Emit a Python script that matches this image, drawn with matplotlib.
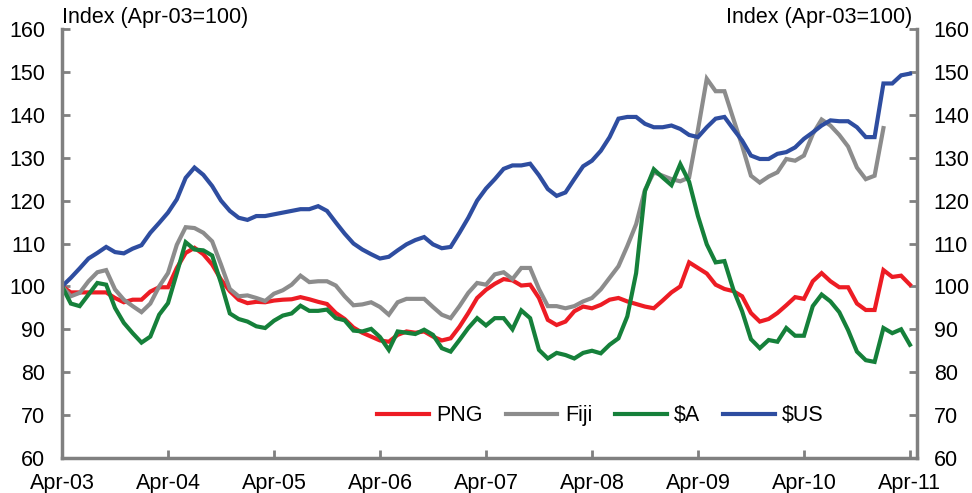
import matplotlib
matplotlib.use("Agg")
import matplotlib.pyplot as plt
import numpy as np

plt.rcParams['font.family'] = ['Liberation Sans', 'DejaVu Sans']

tick_labels = ['Apr-03', 'Apr-04', 'Apr-05', 'Apr-06', 'Apr-07', 'Apr-08', 'Apr-09', 'Apr-10', 'Apr-11']

png = [100, 98.6, 98.6, 98.6, 98.6, 98.6, 97.3, 96.3, 96.9, 96.9,
       98.8, 99.8, 99.8, 104.3, 107.8, 109.0, 107.5, 105.1, 101.6, 98.9,
       96.9, 96.1, 96.4, 96.3, 96.7, 96.9, 97.0, 97.5, 97.0, 96.4,
       95.9, 93.8, 92.4, 90.4, 89.2, 88.3, 87.4, 87.1, 88.7, 89.5,
       89.2, 89.5, 88.3, 87.4, 87.9, 90.6, 93.8, 97.3, 99.2, 100.6,
       101.7, 101.4, 100.2, 100.4, 97.3, 92.2, 91.0, 91.8, 94.2, 95.3,
       94.9, 95.7, 96.9, 97.3, 96.5, 95.9, 95.3, 94.9, 96.7, 98.6,
       100.0, 105.6, 104.3, 103.0, 100.4, 99.4, 98.9, 97.7, 93.8, 91.8,
       92.4, 93.8, 95.6, 97.5, 97.1, 101.2, 103.1, 101.2, 99.8, 99.8,
       96.0, 94.5, 94.5, 103.8, 102.2, 102.5, 100.4]

fiji = [100, 97.7, 98.5, 101.2, 103.3, 103.8, 99.3, 96.9, 95.4, 94.0,
        96.0, 100.0, 103.1, 109.7, 113.8, 113.6, 112.5, 110.5, 105.1, 99.4,
        97.7, 97.9, 97.3, 96.6, 98.3, 99.1, 100.4, 102.5, 101.0, 101.2,
        101.2, 100.2, 97.7, 95.6, 95.8, 96.3, 95.2, 93.4, 96.3, 97.1,
        97.1, 97.1, 95.2, 93.4, 92.6, 95.4, 98.5, 100.8, 100.4, 102.8,
        103.3, 101.7, 104.3, 104.3, 99.4, 95.4, 95.4, 94.9, 95.4, 96.5,
        97.3, 99.3, 102.0, 104.7, 109.4, 114.5, 122.5, 126.6, 125.8, 125.0,
        124.5, 125.4, 136.5, 148.4, 145.5, 145.5, 139.1, 132.8, 125.8, 124.2,
        125.6, 126.6, 129.7, 129.3, 130.5, 135.5, 138.9, 137.5, 135.3, 132.6,
        127.7, 125.0, 125.8, 136.9]

aud = [100, 96.0, 95.4, 98.1, 100.8, 100.4, 95.0, 91.5, 89.1, 86.9,
       88.3, 93.4, 96.1, 103.1, 110.3, 108.6, 108.4, 107.2, 100.8, 93.7,
       92.4, 91.8, 90.7, 90.3, 92.0, 93.2, 93.7, 95.5, 94.3, 94.3,
       94.6, 92.6, 92.1, 89.7, 89.5, 90.1, 88.2, 85.2, 89.5, 89.2,
       88.9, 89.9, 88.7, 85.6, 84.8, 87.5, 90.3, 92.6, 90.9, 92.6,
       92.6, 90.0, 94.4, 92.6, 85.2, 83.2, 84.5, 84.0, 83.2, 84.5,
       85.0, 84.4, 86.4, 87.9, 93.0, 103.1, 122.2, 127.3, 125.4, 123.6,
       128.5, 124.4, 116.4, 109.8, 105.6, 105.9, 99.3, 94.2, 87.7, 85.6,
       87.5, 87.1, 90.3, 88.5, 88.5, 95.4, 98.1, 96.5, 94.0, 89.8,
       84.8, 82.8, 82.4, 90.3, 89.1, 90.0, 86.4]

usd = [100, 102.0, 104.2, 106.5, 107.8, 109.2, 108.0, 107.7, 108.8, 109.6,
       112.5, 114.8, 117.2, 120.3, 125.3, 127.7, 126.0, 123.4, 120.0, 117.6,
       116.0, 115.5, 116.4, 116.4, 116.8, 117.2, 117.6, 118.0, 118.0, 118.7,
       117.6, 114.9, 112.3, 110.0, 108.6, 107.5, 106.5, 106.9, 108.4, 109.8,
       110.8, 111.5, 109.8, 108.9, 109.2, 112.5, 116.0, 120.0, 122.8, 125.0,
       127.4, 128.2, 128.2, 128.6, 125.9, 122.7, 121.1, 121.9, 125.0, 128.0,
       129.3, 131.6, 134.8, 139.1, 139.5, 139.5, 137.9, 137.1, 137.1, 137.5,
       136.7, 135.3, 134.8, 137.1, 139.1, 139.5, 136.7, 134.0, 130.5, 129.7,
       129.7, 130.9, 131.3, 132.4, 134.4, 135.9, 137.5, 138.7, 138.5, 138.5,
       137.1, 134.8, 134.8, 147.3, 147.3, 149.2, 149.6]

series = [('PNG', png, '#ED1C24'), ('Fiji', fiji, '#8C8C8C'),
          ('$A', aud, '#15803A'), ('$US', usd, '#2E4DA0')]

FS = 15.5

fig = plt.figure(figsize=(9.72, 4.93), dpi=100)
ax = fig.add_axes([62/972, 1-458/493, (917-62)/972, (458-29)/493])

for name, vals, col in series:
    x = np.arange(len(vals))
    ax.plot(x, vals, color=col, lw=3, label=name.replace('$', r'\$'), solid_joinstyle='miter')

ax.set_xlim(0, 96.8)
ax.set_ylim(60, 160)
ax.set_xticks(np.arange(0, 97, 12))
ax.set_xticklabels(tick_labels)
ax.set_yticks(np.arange(60, 161, 10))

spine_col = '#808080'
for s in ['left', 'right', 'bottom']:
    ax.spines[s].set_color(spine_col)
    ax.spines[s].set_linewidth(2.5)
ax.spines['top'].set_visible(False)

ax.tick_params(axis='y', which='both', direction='in', length=6, width=2, color=spine_col,
               left=True, right=True, labelleft=True, labelright=True, labelsize=FS, pad=12)
ax.tick_params(axis='x', direction='in', length=6, width=2, color=spine_col, labelsize=FS, pad=11)

leg = ax.legend(loc='center', bbox_to_anchor=(0.63, 0.098), ncol=4, frameon=False,
                fontsize=FS, handlelength=2.4, handletextpad=0.35, columnspacing=1.05,
                borderaxespad=0)

fig.text(62/972, 1-18/493, 'Index (Apr-03=100)', fontsize=FS, ha='left', va='center')
fig.text(912/972, 1-18/493, 'Index (Apr-03=100)', fontsize=FS, ha='right', va='center')

fig.savefig('out.png', dpi=100)
